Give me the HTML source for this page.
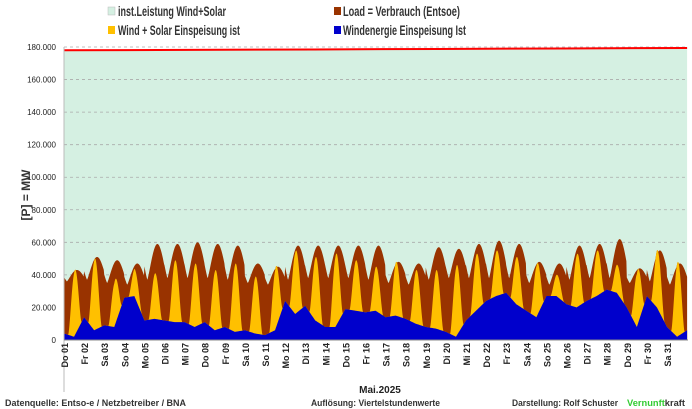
<!DOCTYPE html>
<html><head><meta charset="utf-8"><style>
body{margin:0;background:#fff;width:692px;height:409px;overflow:hidden;font-family:"Liberation Sans",Arial,sans-serif}
svg{display:block}
</style></head><body>
<svg id="c" width="692" height="409">
<g id="legend">
<g><rect x="108" y="7" width="7" height="8" fill="#d5f0e2" stroke="#bbb" stroke-width="0.5"/><text x="118" y="16" font-size="13.5" font-weight="bold" fill="#333" textLength="108" lengthAdjust="spacingAndGlyphs">inst.Leistung Wind+Solar</text></g>
<g><rect x="334" y="7" width="7" height="8" fill="#993300"/><text x="343" y="16" font-size="13.5" font-weight="bold" fill="#333" textLength="117" lengthAdjust="spacingAndGlyphs">Load =  Verbrauch (Entsoe)</text></g>
<g><rect x="108" y="26" width="7" height="8" fill="#ffc000"/><text x="118" y="35" font-size="13.5" font-weight="bold" fill="#333" textLength="122" lengthAdjust="spacingAndGlyphs">Wind + Solar Einspeisung ist</text></g>
<g><rect x="334" y="26" width="7" height="8" fill="#0000cc"/><text x="343" y="35" font-size="13.5" font-weight="bold" fill="#333" textLength="123" lengthAdjust="spacingAndGlyphs">Windenergie Einspeisung Ist</text></g>
</g>
<g id="bg"></g>
<g id="grid"></g>
<g id="series"></g>
<g id="axes"></g>
<text x="30" y="195" font-size="12" font-weight="bold" fill="#333" transform="rotate(-90 30 195)" text-anchor="middle">[P] = MW</text>
<text x="380" y="393" font-size="10" font-weight="bold" fill="#222" text-anchor="middle">Mai.2025</text>
<text x="5" y="406" font-size="9.5" font-weight="bold" fill="#333" textLength="181" lengthAdjust="spacingAndGlyphs">Datenquelle:  Entso-e  / Netzbetreiber / BNA</text>
<text x="311" y="406" font-size="9.5" font-weight="bold" fill="#333" textLength="129" lengthAdjust="spacingAndGlyphs">Auflösung: Viertelstundenwerte</text>
<text x="512" y="406" font-size="9.5" font-weight="bold" fill="#333" textLength="106" lengthAdjust="spacingAndGlyphs">Darstellung:  Rolf Schuster</text>
<text x="627" y="406" font-size="9.5" font-weight="bold" textLength="58" lengthAdjust="spacingAndGlyphs"><tspan fill="#33cc33">Vernunft</tspan><tspan fill="#333">kraft</tspan></text>
</svg>
<script>
const dayLabels=["Do 01","Fr 02","Sa 03","So 04","Mo 05","Di 06","Mi 07","Do 08","Fr 09","Sa 10","So 11","Mo 12","Di 13","Mi 14","Do 15","Fr 16","Sa 17","So 18","Mo 19","Di 20","Mi 21","Do 22","Fr 23","Sa 24","So 25","Mo 26","Di 27","Mi 28","Do 29","Fr 30","Sa 31"];
const loadPeak=[43000,51000,49000,47000,59000,59000,60000,59000,58000,47000,45000,58000,58000,58000,58000,58000,48000,47000,57000,56000,59000,61000,59000,48000,47000,58000,59000,62000,44000,55000,47000];
const loadTrough=[36000,37000,35000,34000,37000,38000,38000,38000,37000,35000,34000,37000,38000,38000,38000,37000,35000,34000,37000,38000,38000,38000,38000,35000,34000,37000,38000,38000,35000,36000,34000];
const yellowPeak=[43000,50000,37000,43000,41000,49000,47000,43000,47000,39000,45000,55000,51000,53000,49000,45000,48000,43000,43000,46000,53000,55000,51000,47000,40000,53000,55000,46000,43000,55000,48000];
const windHalfDay=[4000,2000,14000,6000,9000,8000,26000,27000,12000,13000,12000,11000,11000,8000,11000,6000,8000,5000,6000,4000,3000,6000,24000,16000,21000,12000,8000,8000,19000,18000,17000,18000,14000,15000,13000,10000,8000,7000,5000,2000,12000,18000,24000,27000,29000,22000,18000,14000,27000,27000,22000,20000,24000,27000,31000,29000,20000,8000,27000,20000,8000,2000,6000];
const installed=[178000,178200,178500,178800,179100,179400];
const yTicks=[0,20000,40000,60000,80000,100000,120000,140000,160000,180000];
const X0=64,DW=20.1,Y0=340,YT=47,YMAX=180000;
const xs=t=>X0+t*DW, ys=v=>Y0-(v/YMAX)*(Y0-YT);
const NS="http://www.w3.org/2000/svg";
function mk(tag,attrs,parent){const e=document.createElementNS(NS,tag);for(const k in attrs)e.setAttribute(k,attrs[k]);parent.appendChild(e);return e;}
const bg=document.getElementById('bg'),grid=document.getElementById('grid'),series=document.getElementById('series'),axes=document.getElementById('axes');
let pts=[];installed.forEach((v,i)=>{const t=31*i/(installed.length-1);pts.push([xs(t),ys(v)]);});
let d="M"+xs(0)+","+Y0+" "+pts.map(p=>"L"+p[0]+","+p[1]).join(" ")+" L"+xs(31)+","+Y0+"Z";
let a=mk('path',{d:d,fill:"#d5f0e2"},bg);


function wind(t){const i=t*2;const k=Math.min(Math.floor(i),windHalfDay.length-2);const f=i-k;return windHalfDay[k]*(1-f)+windHalfDay[k+1]*f;}
function loadAt(t){const day=Math.min(Math.floor(t),30);const h=(t-day)*24;const sh=Math.pow(0.5-0.5*Math.cos(2*Math.PI*(h-3.5)/24),0.6);return loadTrough[day]+(loadPeak[day]-loadTrough[day])*sh;}
function solarAt(t){const day=Math.min(Math.floor(t),30);const h=(t-day)*24;if(h<5||h>21)return 0;const pk=Math.max(0,yellowPeak[day]-wind(day+13/24));return pk*Math.pow(Math.sin(Math.PI*(h-5)/16),1.5);}
const N=31*48;
function area(fn,fill,name){let s="M"+xs(0)+","+Y0;for(let i=0;i<=N;i++){const t=i/48;s+=" L"+xs(t).toFixed(2)+","+ys(fn(t)).toFixed(2);}s+=" L"+xs(31)+","+Y0+"Z";const p=mk('path',{d:s,fill:fill},series);}
area(t=>Math.max(loadAt(t),wind(t)+solarAt(t)),"#993300","load-area");
area(t=>wind(t)+solarAt(t),"#ffc000","wind-solar-area");
area(t=>wind(t),"#0000cc","wind-area");
let rl=mk('polyline',{points:pts.map(p=>p.join(",")).join(" "),fill:"none",stroke:"#ff0000","stroke-width":2},series);


yTicks.forEach(v=>{const y=ys(v);
 if(v>0){const g=mk('line',{x1:X0,x2:688,y1:y,y2:y,stroke:"#aaa","stroke-dasharray":"3,3","stroke-width":0.8},grid);}
 const tx=mk('text',{x:56,y:y+3,"font-size":8,"text-anchor":"end",fill:"#222"},axes);tx.textContent=v.toLocaleString('de-DE');
 
 
});
let ax=mk('line',{x1:X0,x2:X0,y1:YT,y2:392,stroke:"#bbb"},axes);
let bx=mk('line',{x1:X0,x2:688,y1:Y0,y2:Y0,stroke:"#888"},axes);
dayLabels.forEach((l,i)=>{const x=xs(i)+4;const t=mk('text',{x:x,y:343,"font-size":9,"font-weight":"bold","text-anchor":"end",fill:"#222",transform:`rotate(-90 ${x} 343)`},axes);t.textContent=l;
 
 });
</script>
</body></html>
